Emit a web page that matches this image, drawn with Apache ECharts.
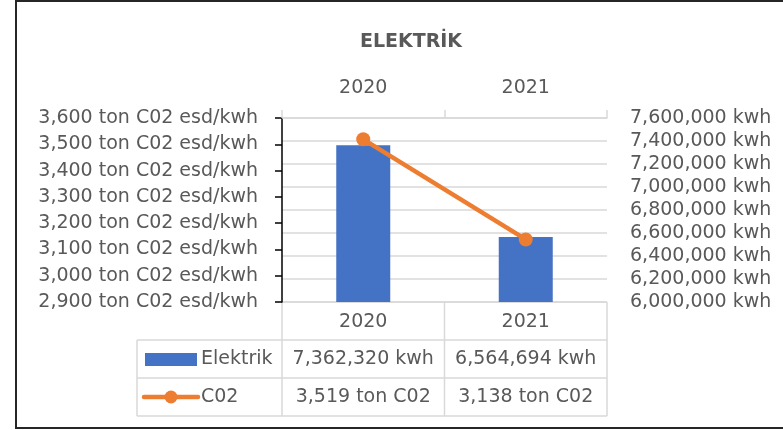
<!DOCTYPE html>
<html>
<head>
<meta charset="utf-8">
<script src="https://cdn.jsdelivr.net/npm/echarts@6/dist/echarts.min.js"></script>
<style>
  html, body { margin: 0; padding: 0; background: #fff; }
  #chart { width: 783px; height: 430px; }
</style>
</head>
<body>
<div id="chart"></div>
<script>
  // data
  var years = ['2020', '2021'];
  var elektrik = [7362320, 6564694];   // kwh, right axis
  var co2 = [3519, 3138];              // ton C02, left axis
  var seriesNames = ['Elektrik', 'C02'];
  var leftAxis = [2900, 3600, 100];
  var rightAxis = [6000000, 7600000, 200000];

  var font = 'DejaVu Sans';
  var txt = '#595959';
  var gridGray = '#d9d9d9';

  function fmt(v) {
    return String(v).replace(/\B(?=(\d{3})+(?!\d))/g, ',');
  }

  var chart = echarts.init(document.getElementById('chart'));

  var option = {
    animation: false,
    backgroundColor: '#fff',
    title: {
      text: 'ELEKTRİK',
      left: 406,
      top: 28,
      textAlign: 'center',
      textStyle: { fontFamily: font, fontSize: 19, fontWeight: 'bold', color: txt }
    },
    grid: { left: 282, right: 176, top: 118, bottom: 128, containLabel: false },
    xAxis: {
      type: 'category',
      position: 'top',
      data: years,
      axisLine: { show: true, lineStyle: { color: gridGray, width: 1.5 } },
      axisTick: { show: true, length: 8, lineStyle: { color: gridGray, width: 1.5 } },
      axisLabel: { color: txt, fontFamily: font, fontSize: 19, margin: 20 }
    },
    yAxis: [
      {
        type: 'value',
        position: 'left',
        min: leftAxis[0], max: leftAxis[1], interval: leftAxis[2],
        axisLine: { show: true, lineStyle: { color: '#000', width: 1.5 } },
        axisTick: { show: true, length: 7, lineStyle: { color: '#000', width: 1.5 } },
        axisLabel: {
          color: txt, fontFamily: font, fontSize: 19, margin: 24,
          formatter: function (v) { return fmt(v) + ' ton C02 esd/kwh'; }
        },
        splitLine: { show: false }
      },
      {
        type: 'value',
        position: 'right',
        min: rightAxis[0], max: rightAxis[1], interval: rightAxis[2],
        axisLine: { show: false },
        axisTick: { show: false },
        axisLabel: {
          color: txt, fontFamily: font, fontSize: 19, margin: 23,
          formatter: function (v) { return fmt(v) + ' kwh'; }
        },
        splitLine: { show: true, lineStyle: { color: gridGray, width: 1.5 } }
      }
    ],
    series: [
      {
        name: seriesNames[0],
        type: 'bar',
        yAxisIndex: 1,
        data: elektrik,
        barWidth: 54,
        itemStyle: { color: '#4472c4' }
      },
      {
        name: seriesNames[1],
        type: 'line',
        yAxisIndex: 0,
        data: co2,
        symbol: 'circle',
        symbolSize: 14,
        lineStyle: { color: '#ed7d31', width: 4.5 },
        itemStyle: { color: '#ed7d31' },
        z: 5
      }
    ]
  };
  chart.setOption(option);

  // data table under the plot, lined up with the category bands
  var centers = years.map(function (y, i) { return chart.convertToPixel({ xAxisIndex: 0 }, i); });
  var band = centers[1] - centers[0];
  var cols = [centers[0] - band / 2].concat(centers.map(function (c) { return c + band / 2; }));
  var legendLeft = 137;
  var rows = [302, 340, 378, 416];
  var line = { stroke: gridGray, lineWidth: 1.5 };
  var tstyle = function (text, x, y, align) {
    return {
      type: 'text', z: 10,
      style: { text: text, x: x, y: y, align: align || 'center', verticalAlign: 'middle',
        fill: txt, font: '19px "' + font + '"' }
    };
  };

  var g = [];
  // outer frame (right edge falls outside the picture)
  g.push({ type: 'rect', shape: { x: 16, y: 1, width: 820, height: 427 },
    style: { fill: 'none', stroke: '#262626', lineWidth: 2 }, silent: true });
  // horizontal rules
  g.push({ type: 'line', shape: { x1: cols[0], y1: rows[0], x2: cols[2], y2: rows[0] }, style: line });
  for (var r = 1; r < rows.length; r++) {
    g.push({ type: 'line', shape: { x1: legendLeft, y1: rows[r], x2: cols[2], y2: rows[r] }, style: line });
  }
  // vertical rules
  g.push({ type: 'line', shape: { x1: legendLeft, y1: rows[1], x2: legendLeft, y2: rows[3] }, style: line });
  cols.forEach(function (x) {
    g.push({ type: 'line', shape: { x1: x, y1: rows[0], x2: x, y2: rows[3] }, style: line });
  });
  // header
  years.forEach(function (y, i) {
    g.push(tstyle(y, centers[i], (rows[0] + rows[1]) / 2 + 1));
  });
  // row 1: Elektrik
  var r1 = (rows[1] + rows[2]) / 2;
  g.push({ type: 'rect', shape: { x: 145, y: r1 - 6, width: 52, height: 13 }, style: { fill: '#4472c4' } });
  g.push(tstyle(seriesNames[0], 201, r1, 'left'));
  elektrik.forEach(function (v, i) { g.push(tstyle(fmt(v) + ' kwh', centers[i], r1)); });
  // row 2: C02
  var r2 = (rows[2] + rows[3]) / 2;
  g.push({ type: 'line', shape: { x1: 144, y1: r2, x2: 198, y2: r2 }, style: { stroke: '#ed7d31', lineWidth: 4.5, lineCap: 'round' } });
  g.push({ type: 'circle', shape: { cx: 171, cy: r2, r: 6.5 }, style: { fill: '#ed7d31' } });
  g.push(tstyle(seriesNames[1], 201, r2, 'left'));
  co2.forEach(function (v, i) { g.push(tstyle(fmt(v) + ' ton C02', centers[i], r2)); });

  chart.setOption({ graphic: g });
</script>
</body>
</html>
